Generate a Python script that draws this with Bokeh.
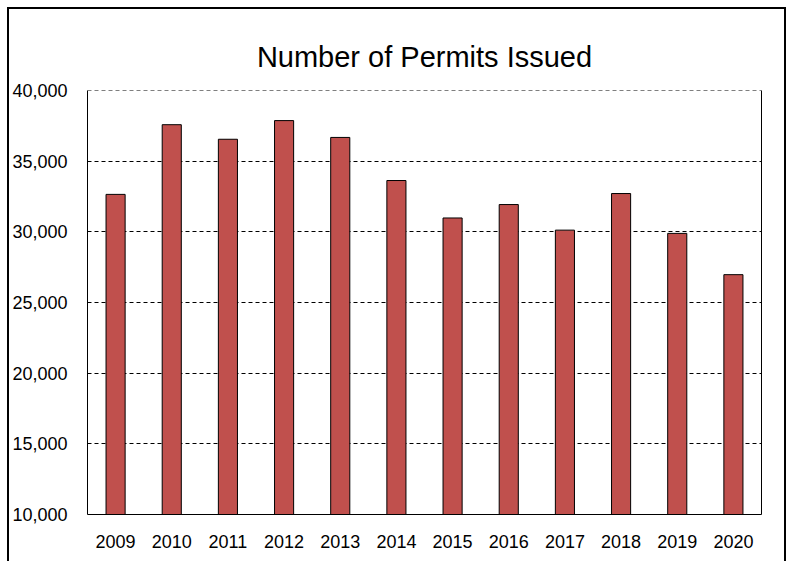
from bokeh.plotting import figure
from bokeh.models import FixedTicker, NumeralTickFormatter, LinearAxis, Range1d, Span
from bokeh.embed import file_html
from bokeh.resources import INLINE

years = ["2009", "2010", "2011", "2012", "2013", "2014", "2015", "2016", "2017", "2018", "2019", "2020"]
permits = [32650, 37580, 36550, 37870, 36680, 33630, 30980, 31930, 30120, 32710, 29890, 26970]
y_ticks = [10000, 15000, 20000, 25000, 30000, 35000, 40000]
title_text = "Number of Permits Issued"

FONT = "Liberation Sans"

p = figure(x_range=years, y_range=Range1d(10000, 40000), width=779, height=554,
           output_backend="svg", toolbar_location=None,
           min_border_left=76, min_border_right=27, min_border_top=81, min_border_bottom=49)
p.styles = {"margin-left": "7px", "margin-top": "7px",
            "border-left": "2px solid black", "border-top": "2px solid black",
            "border-right": "2px solid black"}

p.title.text = title_text
p.title.text_font = FONT
p.title.text_font_size = "29px"
p.title.text_font_style = "normal"
p.title.align = "center"
p.title.vertical_align = "top"
p.title.text_color = "black"
p.title.standoff = 32

p.vbar(x=years, top=permits, bottom=10000, width=0.34, fill_color="#C0504D",
       line_color="black", line_width=1)

p.outline_line_color = None
p.background_fill_color = "white"
p.border_fill_color = "white"

p.xgrid.grid_line_color = None
p.ygrid.ticker = FixedTicker(ticks=y_ticks)
p.ygrid.grid_line_color = "black"
p.ygrid.grid_line_dash = "4 3"
p.ygrid.grid_line_width = 1

top_line = Span(location=y_ticks[-1], dimension="width", line_color="black",
                line_dash="4 3", line_width=1)
p.add_layout(top_line)

p.yaxis.ticker = FixedTicker(ticks=y_ticks)
p.yaxis.formatter = NumeralTickFormatter(format="0,0")
for ax in (p.xaxis[0], p.yaxis[0]):
    ax.major_tick_line_color = None
    ax.minor_tick_line_color = None
    ax.axis_line_color = "black"
    ax.axis_line_width = 1
    ax.major_label_text_font = FONT
    ax.major_label_text_font_size = "18px"
    ax.major_label_text_color = "black"
p.yaxis.major_label_standoff = 14
p.xaxis.major_label_standoff = 14

right = LinearAxis(major_tick_line_color=None, minor_tick_line_color=None,
                   major_label_text_font_size="0px", axis_line_color="black",
                   ticker=FixedTicker(ticks=[]))
p.add_layout(right, "right")

open("out.html", "w").write(file_html(p, INLINE))
